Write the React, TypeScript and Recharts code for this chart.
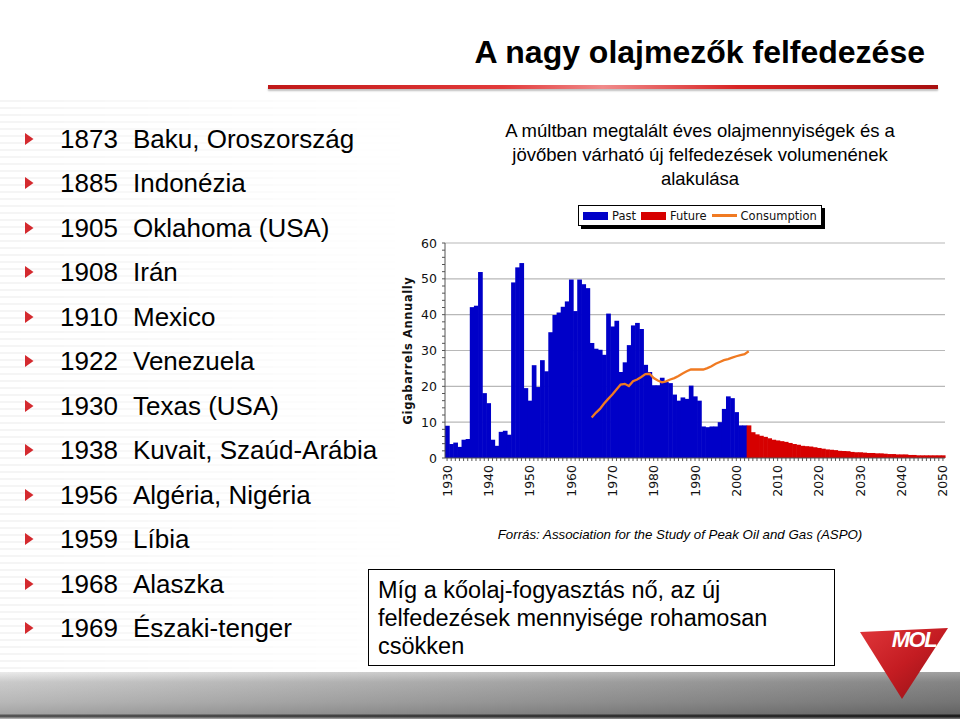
import React from 'react';
import { ComposedChart, Bar, Line, XAxis, YAxis, CartesianGrid, Legend } from 'recharts';

// ---- data ----
const FIRST_YEAR = 1930;
const LAST_YEAR = 2050;

const PAST_START = 1930;
const PAST = [
  9.0, 3.9, 4.3, 3.1, 5.1, 5.3, 42.1, 42.5, 51.9, 18.1,
  15.3, 5.1, 3.4, 7.3, 7.6, 6.5, 49.0, 53.2, 54.4, 19.5,
  16.0, 25.9, 19.8, 27.3, 24.2, 35.1, 39.9, 40.6, 42.2, 43.7,
  49.8, 41.0, 49.8, 48.5, 47.4, 32.1, 30.5, 30.2, 28.8, 40.3,
  36.7, 38.3, 24.0, 26.7, 31.5, 37.0, 37.7, 36.0, 26.0, 24.0,
  20.3, 20.3, 22.4, 21.2, 20.9, 17.7, 16.0, 16.9, 16.5, 20.2,
  17.2, 16.0, 8.8, 8.6, 8.8, 8.8, 10.0, 13.7, 17.2, 16.7,
  12.8, 9.1, 9.1,
];

const FUTURE_START = 2003;
const FUTURE = [
  9.1, 7.2, 6.6, 6.2, 5.9, 5.5, 5.1, 4.9, 4.7, 4.5,
  4.2, 3.9, 3.7, 3.4, 3.3, 3.2, 3.0, 2.8, 2.6, 2.4,
  2.3, 2.2, 2.0, 1.95, 1.9, 1.7, 1.6, 1.6, 1.5, 1.4,
  1.4, 1.3, 1.3, 1.2, 1.1, 1.1, 1.0, 1.0, 1.0, 0.85,
  0.85, 0.75, 0.75, 0.75, 0.75, 0.75, 0.75, 0.75,
];

const CONSUMPTION_START = 1965;
const CONSUMPTION = [
  11.3, 12.6, 13.7, 15.2, 16.5, 17.7, 19.1, 20.5, 20.7, 20.1,
  21.4, 21.9, 22.6, 23.4, 23.5, 22.3, 21.6, 21.1, 21.4, 21.9,
  22.3, 22.9, 23.6, 24.2, 24.7, 24.7, 24.7, 24.7, 25.1, 25.6,
  26.3, 26.8, 27.3, 27.6, 28.0, 28.4, 28.7, 29.0, 29.8,
];

const Y_TICKS = [0, 2, 4, 6, 8, 10, 12, 14, 16, 18, 20, 22, 24, 26, 28, 30, 32, 34, 36, 38, 40, 42, 44, 46, 48, 50, 52, 54, 56, 58, 60];
const Y_GRID = [10, 20, 30, 40, 50, 60];

const DISCOVERIES: [string, string][] = [
  ['1873', 'Baku, Oroszország'],
  ['1885', 'Indonézia'],
  ['1905', 'Oklahoma (USA)'],
  ['1908', 'Irán'],
  ['1910', 'Mexico'],
  ['1922', 'Venezuela'],
  ['1930', 'Texas (USA)'],
  ['1938', 'Kuvait, Szaúd-Arábia'],
  ['1956', 'Algéria, Nigéria'],
  ['1959', 'Líbia'],
  ['1968', 'Alaszka'],
  ['1969', 'Északi-tenger'],
];

const TITLE = 'A nagy olajmezők felfedezése';
const SUBTITLE = ['A múltban megtalált éves olajmennyiségek és a', 'jövőben várható új felfedezések volumenének', 'alakulása'];
const SOURCE = 'Forrás: Association for the Study of Peak Oil and Gas (ASPO)';
const NOTE = ['Míg a kőolaj-fogyasztás nő, az új', 'felfedezések mennyisége rohamosan', 'csökken'];

const COLORS = { past: '#0000c8', future: '#d60000', consumption: '#f07a22' };

const data: { year: number; past: number | null; future: number | null; consumption: number | null }[] = [];
for (let y = FIRST_YEAR; y <= LAST_YEAR; y++) {
  const p = PAST[y - PAST_START];
  const f = FUTURE[y - FUTURE_START];
  const c = CONSUMPTION[y - CONSUMPTION_START];
  data.push({
    year: y,
    past: p === undefined ? null : p,
    future: f === undefined ? null : f,
    consumption: c === undefined ? null : c,
  });
}

const tickFont = '"DejaVu Sans", Verdana, sans-serif';

const XTick = (props: any) => {
  const { x, y, payload } = props;
  if (payload.value % 10 !== 0) return <g />;
  return (
    <text x={x} y={y} transform={`rotate(-90 ${x} ${y})`} textAnchor="end" dy="0.36em"
      fontSize={12.5} fontFamily={tickFont} fill="#111">{payload.value}</text>
  );
};

const YTick = (props: any) => {
  const { x, y, payload } = props;
  if (payload.value % 10 !== 0) return <g />;
  return (
    <text x={x} y={y} textAnchor="end" dy="0.36em" fontSize={12.5} fontFamily={tickFont} fill="#111">{payload.value}</text>
  );
};

// solid bar without anti-aliased seams between neighbouring years
const SolidBar = (props: any) => {
  const { x, y, width, height, fill } = props;
  if (!height || height <= 0) return <g />;
  return <rect x={x} y={y} width={width + 0.7} height={height} fill={fill} />;
};

const LegendBox = () => (
  <div style={{
    display: 'flex', alignItems: 'center', background: '#fff', border: '1px solid #000',
    boxShadow: '3px 3px 0 #000', height: 19, padding: '0 4px', fontFamily: tickFont, fontSize: 11.5,
    color: '#111', whiteSpace: 'nowrap',
  }}>
    <span style={{ display: 'inline-block', width: 25, height: 8, background: COLORS.past, marginRight: 4 }} />
    <span style={{ marginRight: 5 }}>Past</span>
    <span style={{ display: 'inline-block', width: 25, height: 8, background: COLORS.future, marginRight: 4 }} />
    <span style={{ marginRight: 5 }}>Future</span>
    <span style={{ display: 'inline-block', width: 25, height: 2.5, background: COLORS.consumption, marginRight: 4 }} />
    <span>Consumption</span>
  </div>
);

const OilChart = () => (
  <ComposedChart width={560} height={312} data={data}
    margin={{ top: 48, right: 10, left: 0, bottom: 0 }} barCategoryGap={0} barGap={0}>
    <CartesianGrid vertical={false} horizontalValues={Y_GRID} stroke="#b8b8b8" strokeWidth={1.2} />
    <XAxis dataKey="year" interval={0} tick={<XTick />} tickSize={3} tickMargin={4} height={49}
      axisLine={{ stroke: '#555' }} tickLine={{ stroke: '#555' }} />
    <YAxis domain={[0, 60]} ticks={Y_TICKS} interval={0} tick={<YTick />} width={50}
      tickSize={3} tickMargin={5} axisLine={{ stroke: '#555' }} tickLine={{ stroke: '#555' }}
      label={{ value: 'Gigabarrels Annually', angle: -90, position: 'insideLeft', offset: 13,
        style: { textAnchor: 'middle', fontFamily: tickFont, fontWeight: 'bold', fontSize: 11.5, fill: '#111', letterSpacing: '0.6px' } }} />
    <YAxis yAxisId="r" orientation="right" domain={[0, 60]} width={0} tick={false} tickLine={false}
      axisLine={{ stroke: '#a8a8a8' }} />
    <Legend layout="vertical" align="center" verticalAlign="middle"
      wrapperStyle={{ left: 183, top: 10, width: 'auto', height: 'auto' }} content={() => <LegendBox />} />
    <Bar dataKey="past" stackId="a" fill={COLORS.past} shape={<SolidBar />} isAnimationActive={false} />
    <Bar dataKey="future" stackId="a" fill={COLORS.future} shape={<SolidBar />} isAnimationActive={false} />
    <Line dataKey="consumption" stroke={COLORS.consumption} strokeWidth={2.3} dot={false} activeDot={false}
      isAnimationActive={false} />
  </ComposedChart>
);

const Bullet = () => (
  <svg width={9} height={12} style={{ position: 'absolute', left: 25, top: 10 }}>
    <polygon points="0,0 8.5,6 0,12" fill="#d42a2f" />
  </svg>
);

const MolLogo = () => (
  <svg width={110} height={95} style={{ position: 'absolute', left: 852, top: 615 }}>
    <defs>
      <linearGradient id="molg" x1="0" y1="0" x2="1" y2="1">
        <stop offset="0" stopColor="#e0363a" />
        <stop offset="0.5" stopColor="#c41c22" />
        <stop offset="1" stopColor="#8e1015" />
      </linearGradient>
    </defs>
    <polygon points="8,17 96,13 50,84" fill="url(#molg)" />
    <text x={62} y={32} textAnchor="middle" fontFamily="'Liberation Sans', Arial, sans-serif" fontWeight="bold"
      fontStyle="italic" fontSize={22} fill="#fff" letterSpacing="-1.5">MOL</text>
  </svg>
);

export default function App() {
  const font = '"Liberation Sans", Arial, Helvetica, sans-serif';
  return (
    <div style={{ position: 'absolute', left: 0, top: 0, width: 960, height: 719, overflow: 'hidden', background: '#fff', fontFamily: font, color: '#000' }}>
      {/* streaky background */}
      <div style={{ position: 'absolute', left: 0, top: 100, width: 420, height: 572,
        background: 'repeating-linear-gradient(180deg, rgba(0,0,0,0.04) 0px, rgba(0,0,0,0.04) 2px, rgba(0,0,0,0) 2px, rgba(0,0,0,0) 7px)',
        WebkitMaskImage: 'linear-gradient(to right, #000, rgba(0,0,0,0.3) 70%, transparent)',
        maskImage: 'linear-gradient(to right, #000, rgba(0,0,0,0.3) 70%, transparent)' }} />
      {/* title */}
      <div style={{ position: 'absolute', right: 35, top: 34, fontSize: 32, fontWeight: 'bold', lineHeight: '36px', whiteSpace: 'nowrap' }}>{TITLE}</div>
      <div style={{ position: 'absolute', left: 268, top: 85, width: 670, height: 4,
        background: 'linear-gradient(to right, #c01818, #e23a3a 35%, #f08a8a 50%, #d82424 70%, #a81010)',
        boxShadow: '0 2px 2px rgba(0,0,0,0.25)' }} />
      {/* subtitle */}
      <div style={{ position: 'absolute', left: 460, top: 119, width: 480, textAlign: 'center', fontSize: 18.5, lineHeight: '24px' }}>
        {SUBTITLE.map((s, i) => <div key={i}>{s}</div>)}
      </div>
      {/* list */}
      {DISCOVERIES.map(([yr, name], i) => (
        <div key={i} style={{ position: 'absolute', left: 0, top: 139 + i * 44.45 - 16, height: 32, width: 400, fontSize: 26, lineHeight: '32px' }}>
          <Bullet />
          <span style={{ position: 'absolute', left: 60 }}>{yr}</span>
          <span style={{ position: 'absolute', left: 133, whiteSpace: 'nowrap' }}>{name}</span>
        </div>
      ))}
      {/* chart */}
      <div style={{ position: 'absolute', left: 395, top: 195, width: 560, height: 312, background: '#fff' }}>
        <OilChart />
      </div>
      {/* source */}
      <div style={{ position: 'absolute', left: 430, top: 526, width: 500, textAlign: 'center', fontSize: 13.3, fontStyle: 'italic', lineHeight: '17px' }}>{SOURCE}</div>
      {/* note box */}
      <div style={{ position: 'absolute', left: 368, top: 569, width: 467, height: 97, boxSizing: 'border-box', border: '1px solid #000', background: '#fff', padding: '6px 9px', fontSize: 23.5, lineHeight: '28px' }}>
        {NOTE.map((s, i) => <div key={i} style={{ whiteSpace: 'nowrap' }}>{s}</div>)}
      </div>
      {/* bottom bar */}
      <div style={{ position: 'absolute', left: 0, top: 672, width: 960, height: 47,
        background: 'linear-gradient(to right, rgba(255,255,255,0.2), rgba(0,0,0,0.3)), linear-gradient(180deg, #e6e6e6 0px, #bdbdbd 10px, #a6a6a6 30px, #8e8e8e 42px, #2a2a2a 43px, #2a2a2a 45px, #9a9a9a 46px)' }} />
      <MolLogo />
    </div>
  );
}
